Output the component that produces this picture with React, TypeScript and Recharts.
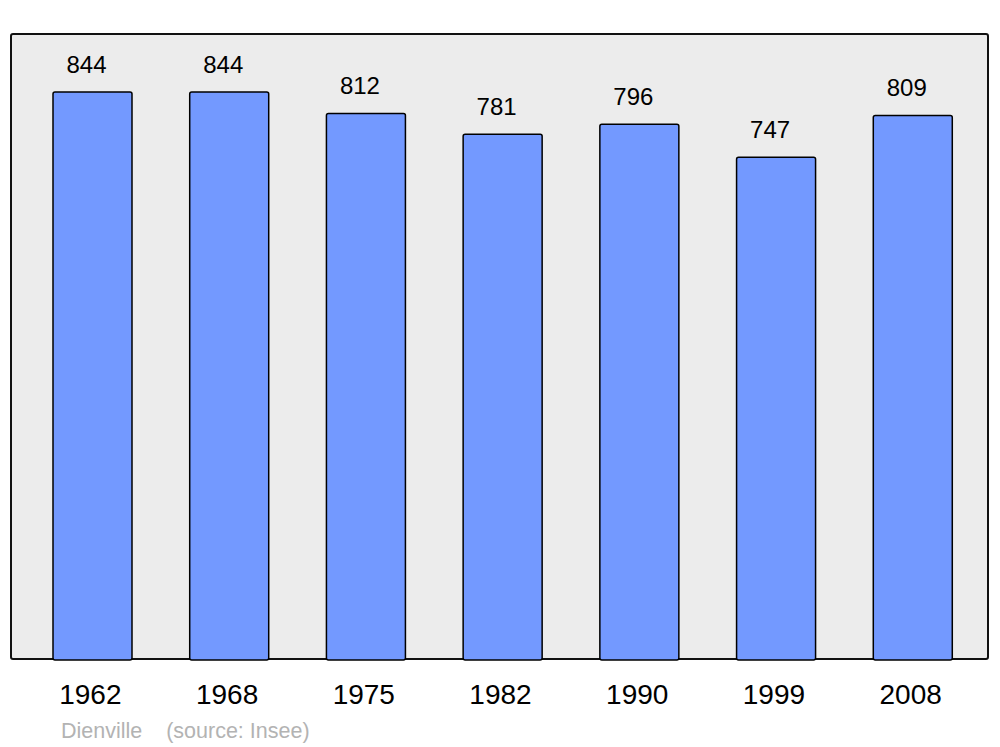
import { Bar, BarChart, LabelList, XAxis, YAxis } from 'recharts'

const years = ['1962', '1968', '1975', '1982', '1990', '1999', '2008']
const population = [844, 844, 812, 781, 796, 747, 809]

const data = years.map((year, i) => ({ year, population: population[i] }))

const FONT = '"Liberation Sans", Arial, sans-serif'

type TickProps = {
  x?: number
  y?: number
  payload?: { value: string }
}

function YearTick({ x = 0, y = 0, payload }: TickProps) {
  return (
    <text x={x - 2} y={y + 36} textAnchor="middle" fontSize={28} fill="#000" fontFamily={FONT}>
      {payload?.value}
    </text>
  )
}

type LabelProps = {
  x?: number
  y?: number
  width?: number
  value?: number
}

function ValueLabel({ x = 0, y = 0, width = 0, value }: LabelProps) {
  return (
    <text x={x + width / 2 - 6} y={y - 19} textAnchor="middle" fontSize={24} fill="#000" fontFamily={FONT}>
      {value}
    </text>
  )
}

export default function App() {
  return (
    <div style={{ position: 'absolute', left: 0, top: 0, width: 1000, height: 747, background: '#fff' }}>
      <div
        style={{
          position: 'absolute',
          left: 10,
          top: 33,
          width: 975,
          height: 623,
          background: '#ececec',
          border: '2.5px solid #111',
          borderRadius: 3,
        }}
      />
      <div style={{ position: 'absolute', left: 0, top: 0 }}>
        <BarChart
          width={1000}
          height={747}
          data={data}
          margin={{ top: 34, right: 19, bottom: 0, left: 24 }}
          barSize={79}
        >
          <XAxis dataKey="year" axisLine={false} tickLine={false} tick={<YearTick />} interval={0} height={87} />
          <YAxis hide domain={[0, 930]} width={0} />
          <Bar
            dataKey="population"
            fill="#7399ff"
            stroke="#000"
            strokeWidth={1.5}
            radius={[2, 2, 2, 2]}
            isAnimationActive={false}
          >
            <LabelList dataKey="population" content={<ValueLabel />} />
          </Bar>
        </BarChart>
      </div>
      <div
        style={{
          position: 'absolute',
          left: 61,
          top: 719,
          fontFamily: FONT,
          fontSize: 21.5,
          color: '#b3b3b3',
          whiteSpace: 'pre',
        }}
      >
        {'Dienville    (source: Insee)'}
      </div>
    </div>
  )
}
